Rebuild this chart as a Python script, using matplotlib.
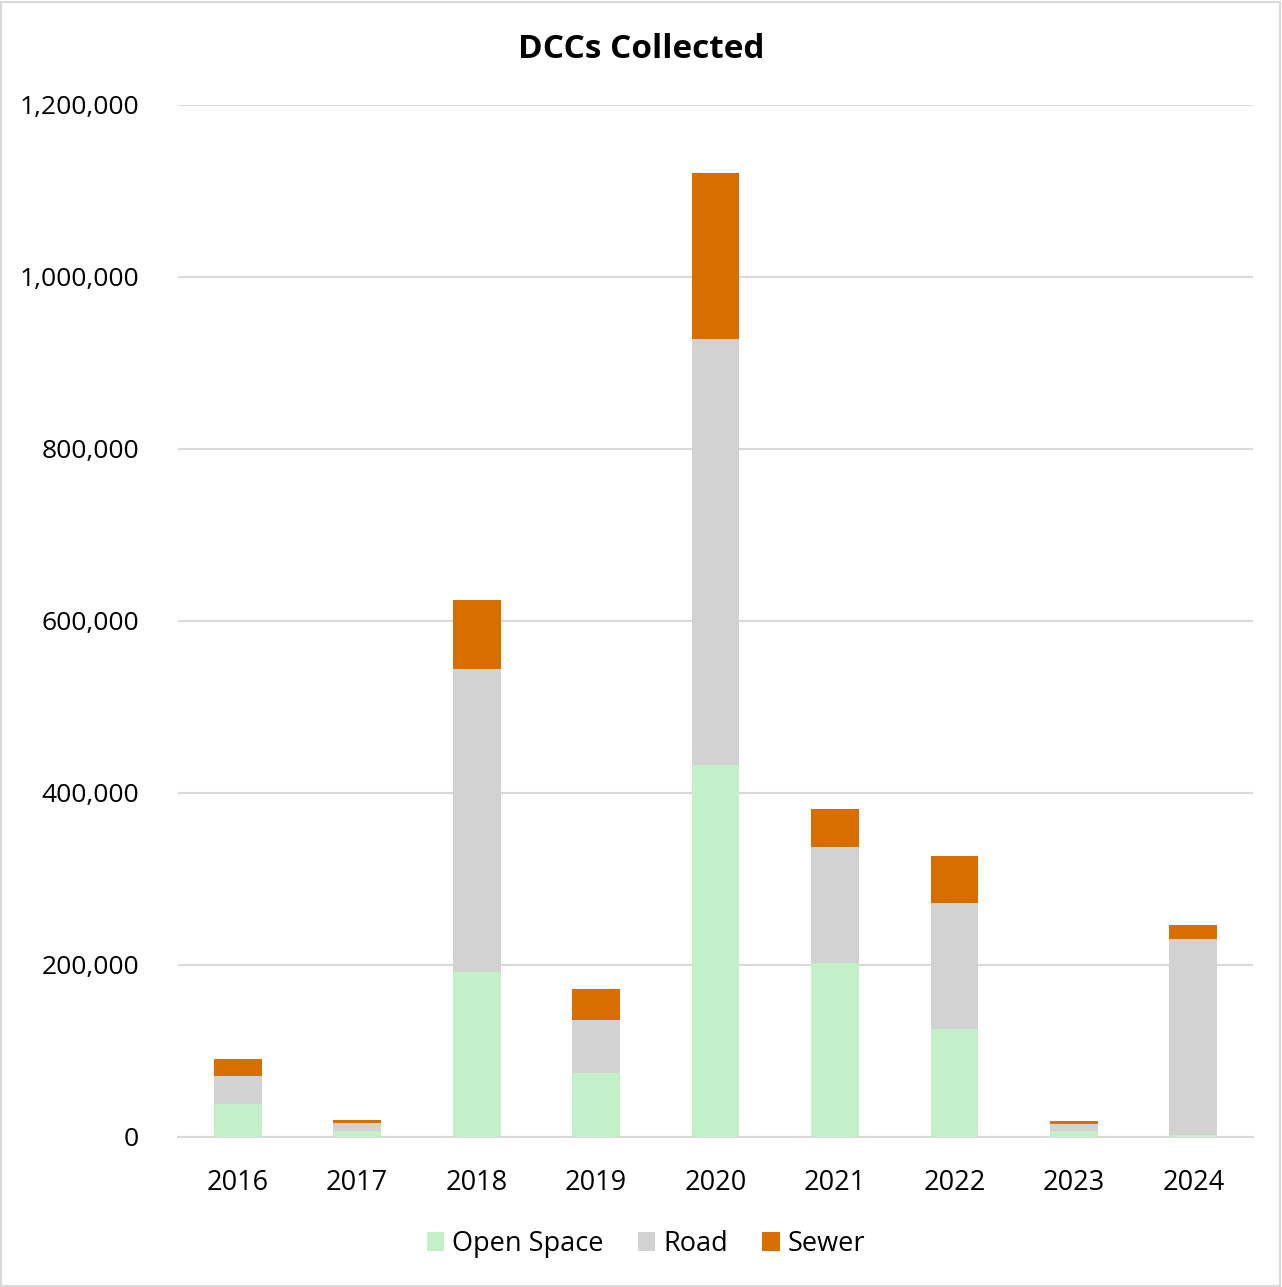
import matplotlib
matplotlib.use("Agg")
import matplotlib.pyplot as plt
from matplotlib.ticker import FuncFormatter
from matplotlib.patches import Rectangle
import numpy as np

years = ["2016", "2017", "2018", "2019", "2020", "2021", "2022", "2023", "2024"]
open_space = [38400, 7000, 191900, 74400, 432600, 202300, 125600, 7000, 2000]
road = [33000, 9300, 352300, 61600, 495300, 134900, 146500, 7800, 227900]
sewer = [19400, 3500, 80200, 36100, 193000, 44200, 54600, 3500, 17000]
series_names = ["Open Space", "Road", "Sewer"]
colors = ["#c3f0c8", "#d2d2d2", "#d86e00"]

plt.rcParams['font.family'] = ['Open Sans', 'DejaVu Sans']

W, H = 1282, 1287
fig = plt.figure(figsize=(W / 100, H / 100), dpi=100)
ax = fig.add_axes([178 / W, 1 - 1137 / H, (1253 - 178) / W, (1137 - 105) / H])

x = np.arange(len(years))
os_ = np.array(open_space)
rd = np.array(road)
sw = np.array(sewer)
bw = 0.40
ax.bar(x, os_, bw, color=colors[0], label=series_names[0], zorder=3)
ax.bar(x, rd, bw, bottom=os_, color=colors[1], label=series_names[1], zorder=3)
ax.bar(x, sw, bw, bottom=os_ + rd, color=colors[2], label=series_names[2], zorder=3)

ax.set_xlim(-0.5, len(years) - 0.5)
ax.set_ylim(0, 1200000)
ax.set_yticks(np.arange(0, 1200001, 200000))
ax.yaxis.set_major_formatter(FuncFormatter(lambda v, p: f"{int(v):,}"))
ax.set_xticks(x)
ax.set_xticklabels(years)
ax.grid(axis='y', color='#d9d9d9', linewidth=1.5, zorder=0)
for s in ['top', 'right', 'left']:
    ax.spines[s].set_visible(False)
ax.spines['bottom'].set_color('#d9d9d9')
ax.spines['bottom'].set_linewidth(1.5)
ax.tick_params(axis='y', length=0, labelsize=19, colors='#000000', pad=28)
ax.tick_params(axis='x', length=0, labelsize=19.5, colors='#000000', pad=23)

fig.text(641 / W, 1 - 50 / H, "DCCs Collected", ha='center', va='center',
         fontsize=24, fontweight='bold')

leg = fig.legend(loc='center', bbox_to_anchor=(646 / W, 1 - 1244 / H), ncol=3,
                 frameon=False, fontsize=19.5, handlelength=0.65, handleheight=0.65,
                 handletextpad=0.3, columnspacing=1.25)

fig.patches.append(Rectangle((1 / W, 1 / H), 1 - 3 / W, 1 - 3 / H, transform=fig.transFigure,
                             fill=False, edgecolor='#d9d9d9', linewidth=1.5))

fig.savefig("out.png", dpi=100, facecolor='white')
